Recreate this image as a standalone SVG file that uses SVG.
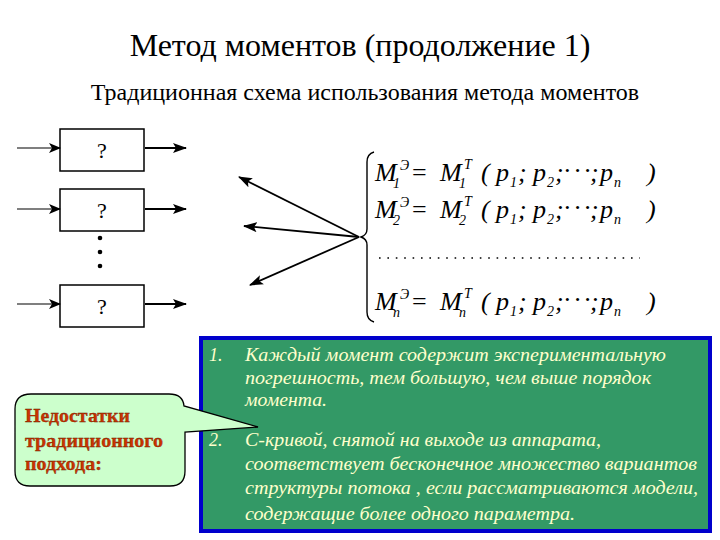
<svg xmlns="http://www.w3.org/2000/svg" width="720" height="540" viewBox="0 0 720 540" font-family="Liberation Serif, Times New Roman, serif">
<defs>
<marker id="ah" viewBox="0 0 12 10" refX="11" refY="5" markerWidth="12" markerHeight="10" markerUnits="userSpaceOnUse" orient="auto">
<path d="M0,0 L12,5 L0,10 L3,5 Z" fill="#000"/>
</marker>
<marker id="ah2" viewBox="0 0 14 10" refX="13" refY="5" markerWidth="14" markerHeight="10" markerUnits="userSpaceOnUse" orient="auto">
<path d="M0,0 L14,5 L0,10 L3,5 Z" fill="#000"/>
</marker>
<style>
.dummy{fill:none}
.box{fill:#fff;stroke:#000;stroke-width:1.5}
.in{stroke:#000;stroke-width:1.2;fill:none;marker-end:url(#ah)}
.out{stroke:#000;stroke-width:2.2;fill:none;marker-end:url(#ah2)}
.fan{stroke:#000;stroke-width:1.8;fill:none;marker-end:url(#ah2)}
</style>
</defs>
<rect width="720" height="540" fill="#fff"/>
<text x="360" y="56" style="font-family:'Liberation Serif',serif;font-size:32px" text-anchor="middle" fill="#000">Метод моментов (продолжение 1)</text>
<text x="365" y="100" style="font-family:'Liberation Serif',serif;font-size:24px" text-anchor="middle" fill="#000">Традиционная схема использования метода моментов</text>

<g id="box1"><rect class="box" x="60" y="129" width="84" height="42"/><text x="102" y="158" style="font-family:'Liberation Serif',serif;font-size:22px" text-anchor="middle">?</text></g>
<g id="box2"><rect class="box" x="60" y="189" width="84" height="42"/><text x="102" y="218" style="font-family:'Liberation Serif',serif;font-size:22px" text-anchor="middle">?</text></g>
<g id="box3"><rect class="box" x="60" y="285" width="84" height="42"/><text x="102" y="314" style="font-family:'Liberation Serif',serif;font-size:22px" text-anchor="middle">?</text></g>
<g id="dots" fill="#000"><circle cx="100" cy="238" r="2.3"/><circle cx="100" cy="252" r="2.3"/><circle cx="100" cy="266" r="2.3"/></g>

<g id="connectors">
<line class="in" x1="17" y1="148" x2="60" y2="148"/>
<line class="in" x1="17" y1="209" x2="60" y2="209"/>
<line class="in" x1="17" y1="304" x2="60" y2="304"/>
<line class="out" x1="145" y1="148" x2="186" y2="148"/>
<line class="out" x1="145" y1="209" x2="186" y2="209"/>
<line class="out" x1="145" y1="304" x2="186" y2="304"/>
<line class="fan" x1="359" y1="237" x2="239" y2="177"/>
<line class="fan" x1="359" y1="237" x2="244" y2="226"/>
<line class="fan" x1="359" y1="237" x2="250" y2="285"/>
</g>

<g id="system" fill="#000">
<path d="M374,152 Q367,154 367,162 L367,229 Q367,235 361,237 Q367,239 367,245 L367,312 Q367,320 374,322" fill="none" stroke="#000" stroke-width="1.4"/>
<text style="font-family:'Liberation Serif',serif;font-size:26px;font-style:italic"><tspan x="375" y="181">M</tspan><tspan x="393" y="188" style="font-size:14px">1</tspan><tspan x="400" y="170" style="font-size:14px">Э</tspan><tspan x="412" y="181" style="font-style:normal">=</tspan><tspan x="440" y="181">M</tspan><tspan x="459" y="188" style="font-size:14px">1</tspan><tspan x="464" y="169" style="font-size:14px">T</tspan><tspan x="481" y="181">(</tspan><tspan x="496" y="181">p</tspan><tspan x="510" y="187" style="font-size:14px">1</tspan><tspan x="518" y="181">;</tspan><tspan x="533" y="181">p</tspan><tspan x="547" y="187" style="font-size:14px">2</tspan><tspan x="555" y="181">;</tspan><tspan x="563" y="179" style="font-style:normal;letter-spacing:1.5px">···</tspan><tspan x="590" y="181">;</tspan><tspan x="600" y="181">p</tspan><tspan x="614" y="187" style="font-size:14px">n</tspan><tspan x="647" y="181">)</tspan></text>
<text style="font-family:'Liberation Serif',serif;font-size:26px;font-style:italic"><tspan x="375" y="218">M</tspan><tspan x="393" y="225" style="font-size:14px">2</tspan><tspan x="400" y="207" style="font-size:14px">Э</tspan><tspan x="412" y="218" style="font-style:normal">=</tspan><tspan x="440" y="218">M</tspan><tspan x="459" y="225" style="font-size:14px">2</tspan><tspan x="464" y="206" style="font-size:14px">T</tspan><tspan x="481" y="218">(</tspan><tspan x="496" y="218">p</tspan><tspan x="510" y="224" style="font-size:14px">1</tspan><tspan x="518" y="218">;</tspan><tspan x="533" y="218">p</tspan><tspan x="547" y="224" style="font-size:14px">2</tspan><tspan x="555" y="218">;</tspan><tspan x="563" y="216" style="font-style:normal;letter-spacing:1.5px">···</tspan><tspan x="590" y="218">;</tspan><tspan x="600" y="218">p</tspan><tspan x="614" y="224" style="font-size:14px">n</tspan><tspan x="647" y="218">)</tspan></text>
<line x1="379" y1="258" x2="640" y2="258" stroke="#000" stroke-width="1.6" stroke-dasharray="1.6 6.8"/>
<text style="font-family:'Liberation Serif',serif;font-size:26px;font-style:italic"><tspan x="375" y="310">M</tspan><tspan x="393" y="317" style="font-size:14px">n</tspan><tspan x="400" y="299" style="font-size:14px">Э</tspan><tspan x="412" y="310" style="font-style:normal">=</tspan><tspan x="440" y="310">M</tspan><tspan x="459" y="317" style="font-size:14px">n</tspan><tspan x="464" y="298" style="font-size:14px">T</tspan><tspan x="481" y="310">(</tspan><tspan x="496" y="310">p</tspan><tspan x="510" y="316" style="font-size:14px">1</tspan><tspan x="518" y="310">;</tspan><tspan x="533" y="310">p</tspan><tspan x="547" y="316" style="font-size:14px">2</tspan><tspan x="555" y="310">;</tspan><tspan x="563" y="308" style="font-style:normal;letter-spacing:1.5px">···</tspan><tspan x="590" y="310">;</tspan><tspan x="600" y="310">p</tspan><tspan x="614" y="316" style="font-size:14px">n</tspan><tspan x="647" y="310">)</tspan></text>
</g>

<g id="list" fill="#ffffcc">
<rect x="201" y="338" width="509" height="193" fill="#339966" stroke="#0000cc" stroke-width="4"/>
<text x="209" y="361" style="font-family:'Liberation Serif',serif;font-size:18px;font-style:italic">1.</text>
<text x="245" y="361" style="font-family:'Liberation Serif',serif;font-size:18px;font-style:italic" textLength="421" lengthAdjust="spacingAndGlyphs">Каждый момент содержит экспериментальную</text>
<text x="245" y="384" style="font-family:'Liberation Serif',serif;font-size:18px;font-style:italic" textLength="406" lengthAdjust="spacingAndGlyphs">погрешность, тем большую, чем выше порядок</text>
<text x="245" y="406" style="font-family:'Liberation Serif',serif;font-size:18px;font-style:italic" textLength="82" lengthAdjust="spacingAndGlyphs">момента.</text>
<text x="209" y="446" style="font-family:'Liberation Serif',serif;font-size:18px;font-style:italic">2.</text>
<text x="245" y="446" style="font-family:'Liberation Serif',serif;font-size:18px;font-style:italic" textLength="356" lengthAdjust="spacingAndGlyphs">С-кривой, снятой на выходе из аппарата,</text>
<text x="245" y="470" style="font-family:'Liberation Serif',serif;font-size:18px;font-style:italic" textLength="452" lengthAdjust="spacingAndGlyphs">соответствует бесконечное множество вариантов</text>
<text x="245" y="494" style="font-family:'Liberation Serif',serif;font-size:18px;font-style:italic" textLength="453" lengthAdjust="spacingAndGlyphs">структуры потока , если рассматриваются модели,</text>
<text x="245" y="520" style="font-family:'Liberation Serif',serif;font-size:18px;font-style:italic" textLength="330" lengthAdjust="spacingAndGlyphs">содержащие более одного параметра.</text>
</g>

<g id="callout">
<path d="M31,394 H169 Q183,394 184,406 L258,427 L185,432 V471 Q185,486 170,486 H30 Q15,486 15,471 V409 Q15,394 31,394 Z" fill="#ccffcc" stroke="#000" stroke-width="1.3"/>
<text x="25" y="422" style="font-family:'Liberation Serif',serif;font-size:19px;font-weight:bold" fill="#cc3300" stroke="#662200" stroke-width="0.3" textLength="105" lengthAdjust="spacingAndGlyphs">Недостатки</text>
<text x="25" y="447" style="font-family:'Liberation Serif',serif;font-size:19px;font-weight:bold" fill="#cc3300" stroke="#662200" stroke-width="0.3" textLength="138" lengthAdjust="spacingAndGlyphs">традиционного</text>
<text x="25" y="470" style="font-family:'Liberation Serif',serif;font-size:19px;font-weight:bold" fill="#cc3300" stroke="#662200" stroke-width="0.3" textLength="77" lengthAdjust="spacingAndGlyphs">подхода:</text>
</g>
</svg>
